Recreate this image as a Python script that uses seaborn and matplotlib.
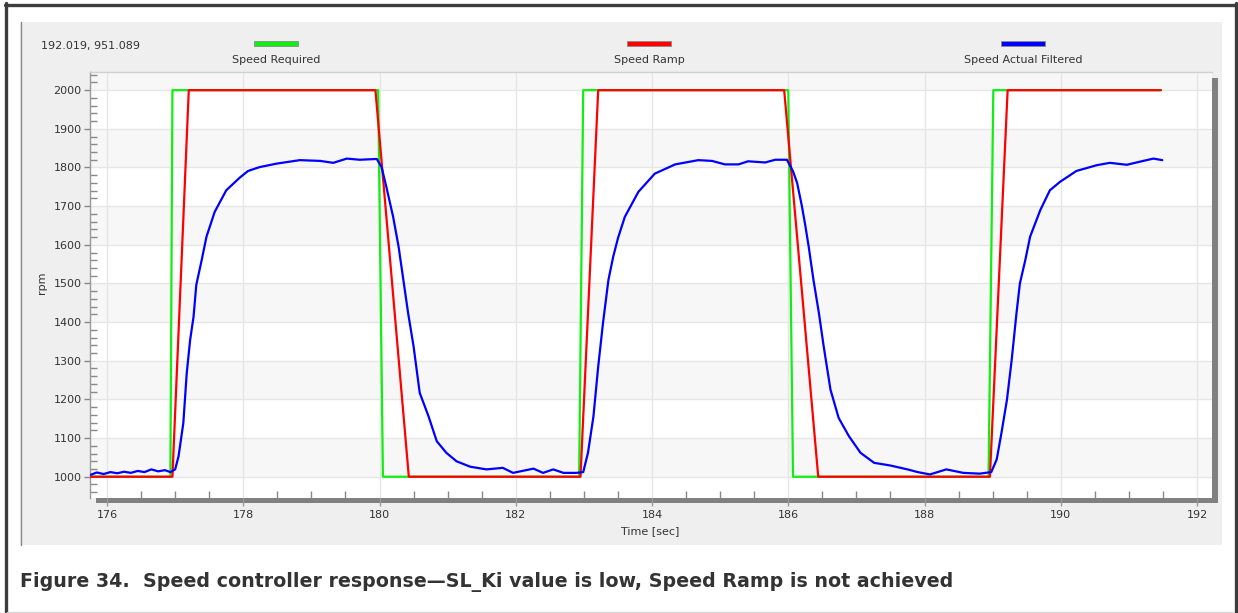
import matplotlib
matplotlib.use("Agg")
import matplotlib.pyplot as plt
from matplotlib.patches import Rectangle
from matplotlib.lines import Line2D
from matplotlib.ticker import MultipleLocator
import seaborn as sns
import pandas as pd

# ---------------- data ----------------
series_names = ["Speed Required", "Speed Ramp", "Speed Actual Filtered"]
series_colors = ["#11ee11", "#ff0000", "#0000ff"]

t_required = [175.76, 176.93, 176.96, 179.98, 180.05, 182.93, 182.99, 186.00, 186.07, 188.94, 189.01, 191.47]
v_required = [1000, 1000, 2000, 2000, 1000, 1000, 2000, 2000, 1000, 1000, 2000, 2000]

t_ramp = [175.76, 176.96, 177.20, 179.94, 180.43, 182.95, 183.21, 185.94, 186.44, 188.96, 189.22, 191.47]
v_ramp = [1000, 1000, 2000, 2000, 1000, 1000, 2000, 2000, 1000, 1000, 2000, 2000]

t_actual = [175.76, 175.85, 175.95, 176.05, 176.15, 176.25, 176.35, 176.45, 176.55, 176.65, 176.75, 176.85,
            176.93, 177.00, 177.05, 177.12, 177.17, 177.22, 177.27, 177.31, 177.39, 177.46, 177.58, 177.75,
            177.95, 178.07, 178.24, 178.49, 178.83, 179.13, 179.32, 179.52, 179.71, 179.96, 180.03, 180.10,
            180.20, 180.28, 180.35, 180.42, 180.50, 180.59, 180.72, 180.84, 180.98, 181.13, 181.33, 181.57,
            181.81, 181.96, 182.26, 182.40, 182.55, 182.70, 182.89, 182.99, 183.06, 183.14, 183.21, 183.28,
            183.36, 183.43, 183.50, 183.60, 183.80, 184.04, 184.34, 184.68, 184.88, 185.07, 185.27, 185.41,
            185.66, 185.81, 185.98, 186.07, 186.13, 186.20, 186.25, 186.30, 186.37, 186.45, 186.52, 186.62,
            186.74, 186.89, 187.06, 187.26, 187.50, 187.75, 187.90, 188.08, 188.32, 188.57, 188.81, 188.98,
            189.06, 189.13, 189.21, 189.28, 189.35, 189.40, 189.48, 189.55, 189.70, 189.84, 189.99, 190.23,
            190.53, 190.72, 190.97, 191.21, 191.36, 191.49]
v_actual = [1005, 1011, 1007, 1012, 1009, 1013, 1010, 1015, 1012, 1019, 1014, 1017,
            1012, 1019, 1053, 1139, 1268, 1354, 1414, 1496, 1561, 1621, 1685, 1741,
            1774, 1791, 1801, 1810, 1819, 1817, 1812, 1823, 1820, 1822, 1801, 1750,
            1672, 1595, 1509, 1423, 1337, 1217, 1156, 1092, 1062, 1040, 1026, 1019,
            1023, 1010, 1021, 1010, 1019, 1010, 1010, 1012, 1062, 1156, 1285, 1397,
            1509, 1569, 1617, 1672, 1737, 1784, 1808, 1819, 1817, 1808, 1808, 1816,
            1813, 1820, 1820, 1790, 1760, 1700, 1650, 1595, 1509, 1423, 1337, 1225,
            1152, 1105, 1062, 1036, 1029, 1019, 1012, 1006, 1019, 1010, 1008, 1012,
            1045, 1114, 1199, 1303, 1423, 1500, 1561, 1621, 1690, 1741, 1763, 1791,
            1806, 1812, 1807, 1817, 1823, 1819]

x_ticks = [176, 178, 180, 182, 184, 186, 188, 190, 192]
y_ticks = [1000, 1100, 1200, 1300, 1400, 1500, 1600, 1700, 1800, 1900, 2000]
x_label = "Time [sec]"
y_label = "rpm"
cursor_text = "192.019, 951.089"
caption = "Figure 34.  Speed controller response\u2014SL_Ki value is low, Speed Ramp is not achieved"

# ---------------- figure ----------------
sns.set_style("white")
plt.rcParams["font.family"] = ["DejaVu Sans"]

W, H = 1238, 613
fig = plt.figure(figsize=(W / 100, H / 100), dpi=100)
fig.patch.set_facecolor("white")

TXT = "#333333"
FS = 8


def fx(x):
    return x / W


def fy(y):
    return 1 - y / H


def frect(x0, y0, x1, y1, **kw):
    r = Rectangle((fx(x0), fy(y1)), fx(x1) - fx(x0), fy(y0) - fy(y1), transform=fig.transFigure, **kw)
    fig.add_artist(r)
    return r


# gray inner panel
frect(20, 22, 1222, 545, facecolor="#efefef", edgecolor="none", zorder=-3)
fig.add_artist(Line2D([fx(20.5), fx(20.5)], [fy(22), fy(545)], transform=fig.transFigure,
                      color="#8a8a8a", lw=1, zorder=-2))
# drop shadow of plot area
frect(96, 78, 1218, 503, facecolor="#808080", edgecolor="none", zorder=-1)

# outer screenshot frame
fig.add_artist(Line2D([fx(5.5), fx(5.5)], [fy(3), fy(613)], transform=fig.transFigure, color="#3c3c3c", lw=2.4))
fig.add_artist(Line2D([fx(1235.5), fx(1235.5)], [fy(3), fy(613)], transform=fig.transFigure, color="#3c3c3c", lw=2.4))
fig.add_artist(Line2D([fx(4.5), fx(1236.5)], [fy(4.5), fy(4.5)], transform=fig.transFigure, color="#3c3c3c", lw=2.4))
fig.add_artist(Line2D([fx(7), fx(1234)], [fy(611.5), fy(611.5)], transform=fig.transFigure, color="#d8d8d8", lw=1))

# plot axes
L, R, T, B = 90, 1212, 72, 498
ax = fig.add_axes([fx(L), fy(B), fx(R) - fx(L), fy(T) - fy(B)])
ax.set_facecolor("white")
ax.set_zorder(0)

ymin, ymax = 945, 2047
# alternating bands
for lo in range(1000, 2100, 200):
    ax.axhspan(lo, min(lo + 100, ymax), color="#f7f7f7", zorder=0, lw=0)
for y in y_ticks:
    ax.axhline(y, color="#e6e6e6", lw=1, zorder=0.5)
for x in x_ticks:
    ax.axvline(x, color="#e6e6e6", lw=1, zorder=0.5)

df_req = pd.DataFrame({"t": t_required, "v": v_required})
df_ramp = pd.DataFrame({"t": t_ramp, "v": v_ramp})
df_act = pd.DataFrame({"t": t_actual, "v": v_actual})

sns.lineplot(data=df_req, x="t", y="v", ax=ax, color=series_colors[0], lw=1.6, estimator=None, sort=False, zorder=2)
sns.lineplot(data=df_ramp, x="t", y="v", ax=ax, color=series_colors[1], lw=1.6, estimator=None, sort=False, zorder=3)
sns.lineplot(data=df_act, x="t", y="v", ax=ax, color=series_colors[2], lw=1.6, estimator=None, sort=False, zorder=4)

ax.set_xlim(175.75, 192.22)
ax.set_ylim(ymin, ymax)
ax.set_xticks(x_ticks)
ax.set_yticks(y_ticks)
ax.xaxis.set_minor_locator(MultipleLocator(0.5))
ax.yaxis.set_minor_locator(MultipleLocator(20))
ax.tick_params(axis="x", which="major", direction="out", length=5.8, width=1, color="#999999", pad=2.5,
               labelsize=FS, labelcolor=TXT, bottom=True)
ax.tick_params(axis="x", which="minor", direction="in", length=5, width=1, color="#888888", bottom=True)
ax.tick_params(axis="y", which="major", direction="out", length=4, width=1, color="#888888", pad=2,
               labelsize=FS, labelcolor=TXT, left=True)
ax.tick_params(axis="y", which="minor", direction="in", length=5, width=1, color="#888888", left=True)
ax.set_xlabel("")
ax.set_ylabel("")
for s in ["right", "bottom"]:
    ax.spines[s].set_visible(False)
ax.spines["left"].set_color("#999999")
ax.spines["top"].set_color("#d0d0d0")
for s in ["left", "top"]:
    ax.spines[s].set_linewidth(1)

# axis titles
fig.text(fx(650), fy(531), x_label, ha="center", va="center", fontsize=FS, color=TXT)
fig.text(fx(42), fy(283), y_label, ha="center", va="center", rotation=90, fontsize=FS, color=TXT)

# cursor readout
fig.text(fx(41), fy(46), cursor_text, ha="left", va="center", fontsize=FS, color=TXT)

# legend
legend_centers = [276, 649, 1023]
for name, col, cx in zip(series_names, series_colors, legend_centers):
    frect(cx - 22, 41, cx + 22, 45.5, facecolor=col, edgecolor="#8a8a8a", lw=0.6, zorder=2)
    fig.text(fx(cx), fy(60), name, ha="center", va="center", fontsize=FS, color=TXT)

# caption
fig.text(fx(20), fy(582), caption, ha="left", va="center", fontsize=13.7, fontweight="bold", color="#333333")

fig.savefig("out.png", dpi=100)
